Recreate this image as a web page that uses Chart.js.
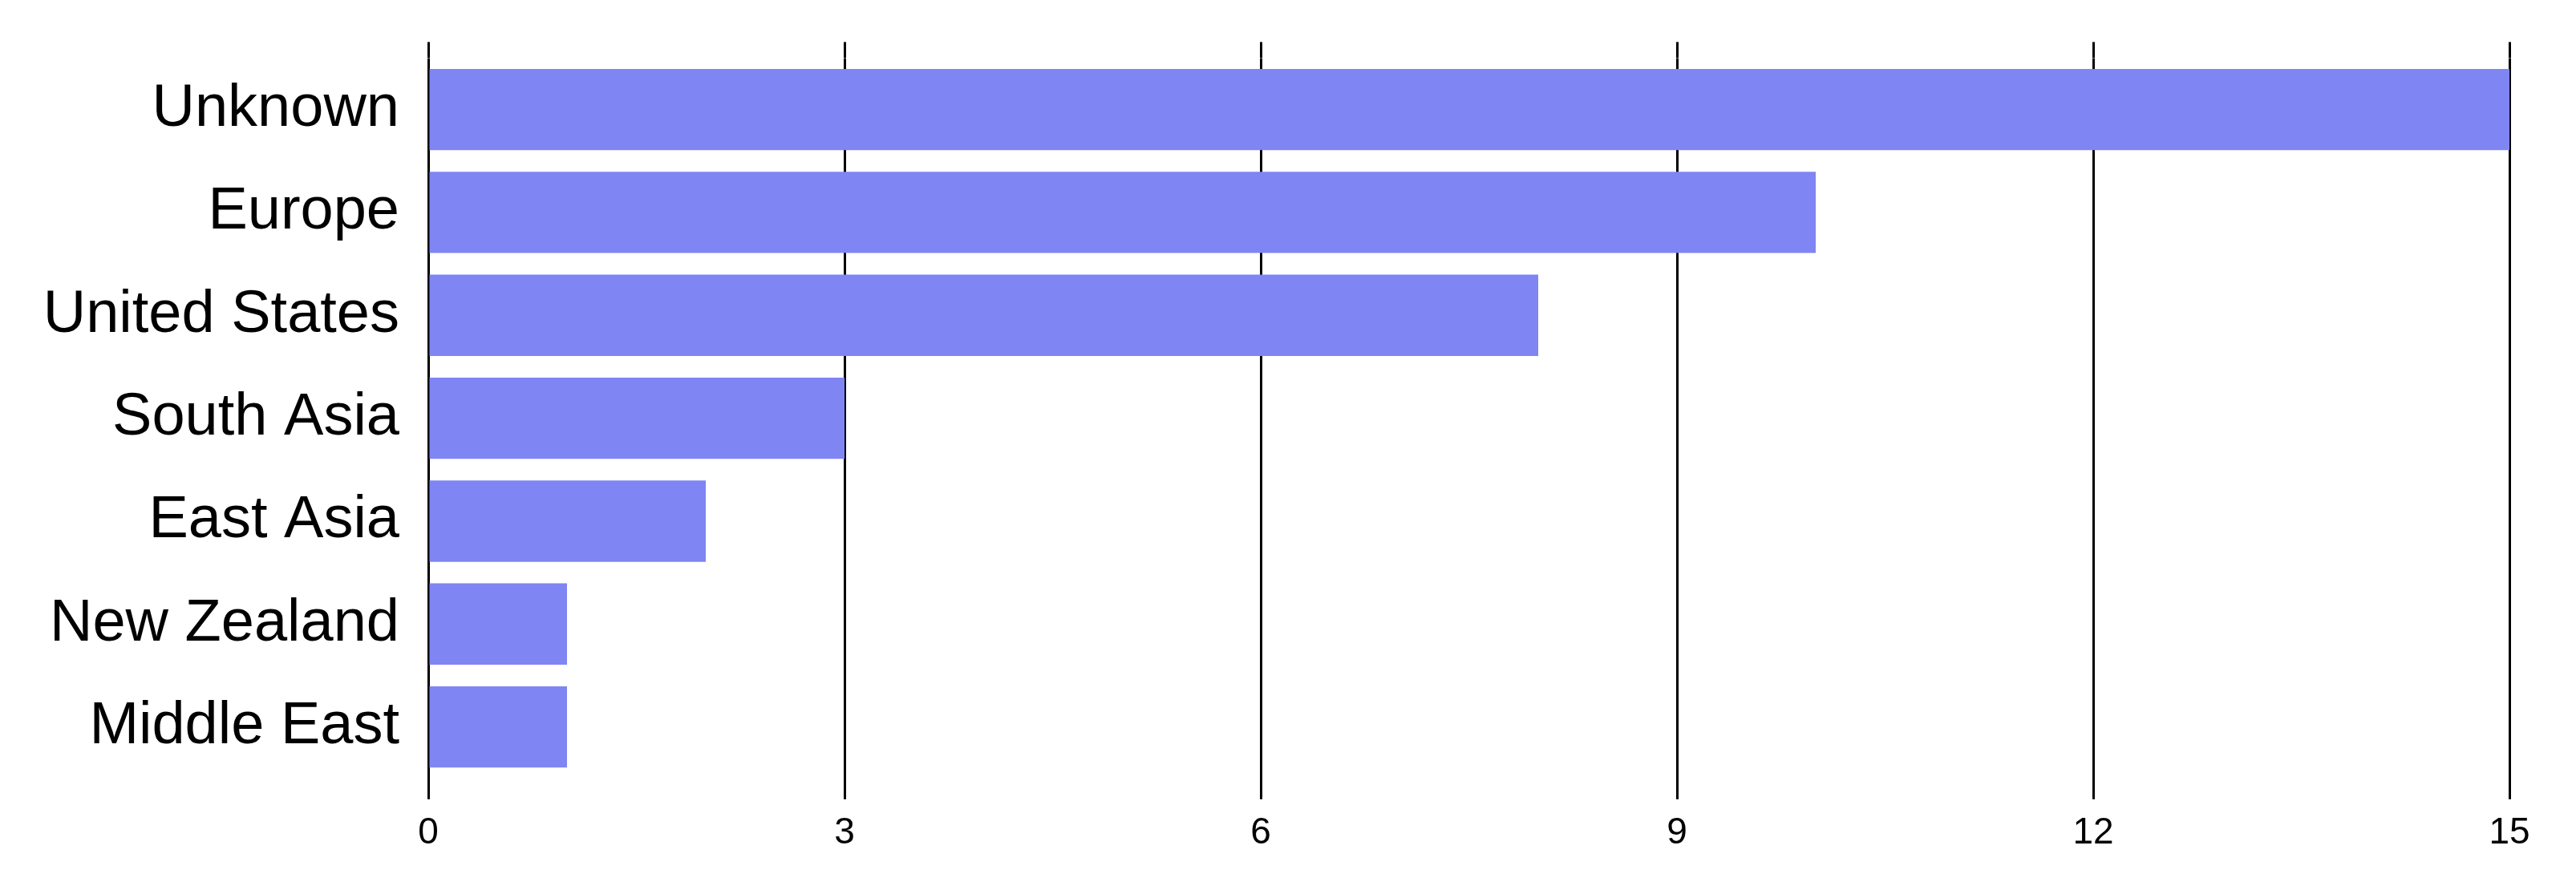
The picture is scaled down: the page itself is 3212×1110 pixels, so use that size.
<!DOCTYPE html>
<html>
<head>
<meta charset="utf-8">
<script src="https://cdn.jsdelivr.net/npm/chart.js@4/dist/chart.umd.min.js"></script>
<style>
  html, body { margin: 0; padding: 0; background: #fff; }
</style>
</head>
<body>
<canvas id="chart" width="3212" height="1110"></canvas>
<script>
var regions = ["Unknown", "Europe", "United States", "South Asia", "East Asia", "New Zealand", "Middle East"];
var counts = [15, 10, 8, 3, 2, 1, 1];
var xTicks = [0, 3, 6, 9, 12, 15];

var fontFamily = "'Liberation Sans', Arial, Helvetica, sans-serif";

new Chart(document.getElementById("chart"), {
    type: 'bar',
    data: {
        labels: regions,
        datasets: [{
            data: counts,
            backgroundColor: "#7f85f2",
            borderWidth: 0,
            barPercentage: 0.79,
            categoryPercentage: 1
        }]
    },
    options: {
        indexAxis: 'y',
        responsive: false,
        animation: false,
        events: [],
        layout: {
            padding: { top: 41, right: 83, bottom: 28, left: 0 }
        },
        plugins: {
            legend: { display: false },
            tooltip: { enabled: false }
        },
        scales: {
            x: {
                position: 'bottom',
                min: 0,
                max: 15,
                afterBuildTicks: function (scale) {
                    scale.ticks = xTicks.map(function (v) { return { value: v }; });
                },
                grid: {
                    color: "#000",
                    lineWidth: 3,
                    tickLength: 26,
                    tickColor: "#000",
                    tickWidth: 3
                },
                border: { display: false },
                ticks: {
                    color: "#000",
                    padding: 15,
                    font: { family: fontFamily, size: 46 }
                }
            },
            xTop: {
                axis: 'x',
                position: 'top',
                min: 0,
                max: 15,
                afterBuildTicks: function (scale) {
                    scale.ticks = xTicks.map(function (v) { return { value: v }; });
                },
                grid: {
                    drawOnChartArea: false,
                    tickLength: 20,
                    tickColor: "#000",
                    tickWidth: 3
                },
                border: { display: false },
                ticks: { display: false }
            },
            y: {
                grid: { display: false },
                border: { display: false },
                afterFit: function (scale) { scale.width = 534; },
                ticks: {
                    color: "#000",
                    padding: 28,
                    font: { family: fontFamily, size: 74 }
                }
            }
        }
    }
});
</script>
</body>
</html>
